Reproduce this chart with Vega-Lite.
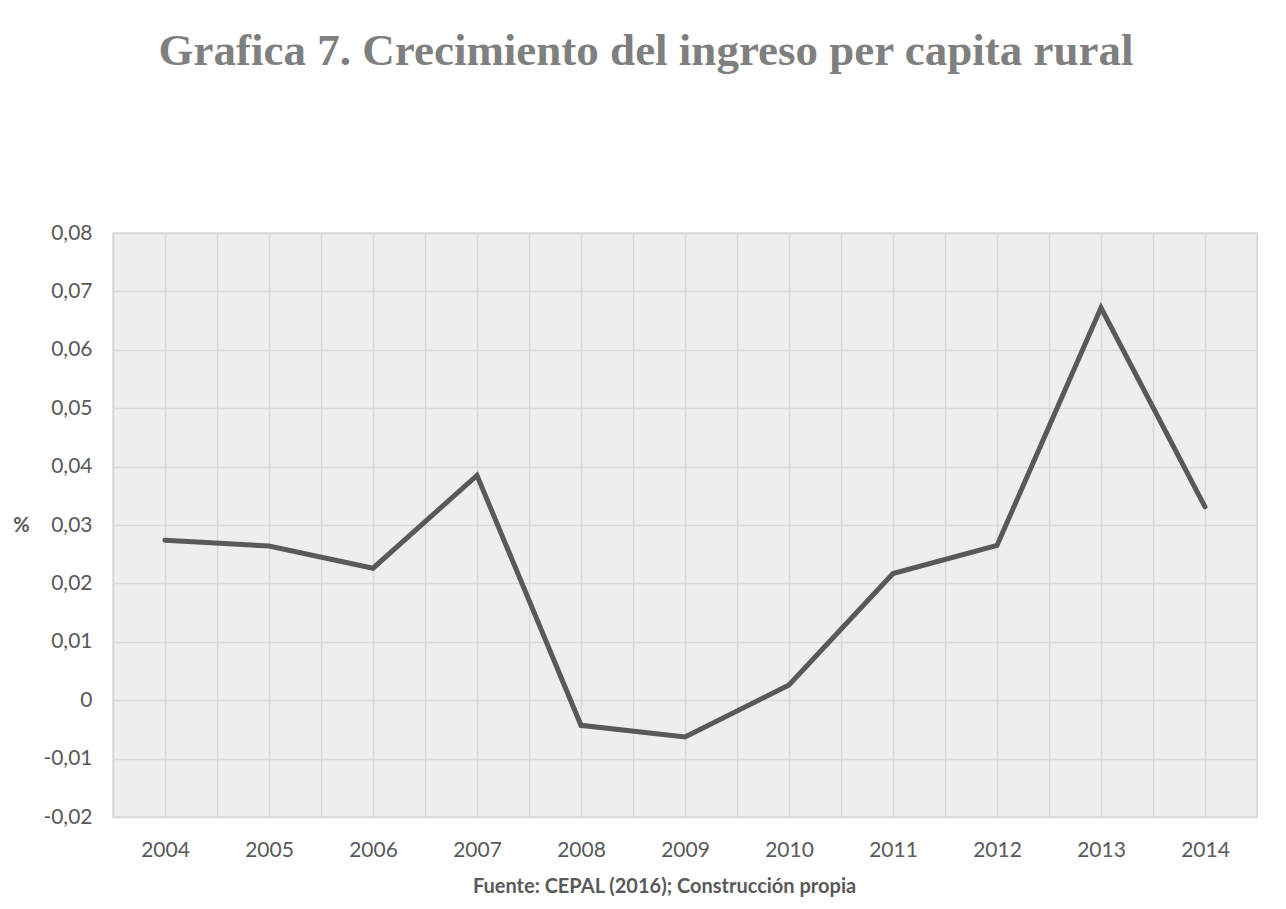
{
  "$schema": "https://vega.github.io/schema/vega-lite/v6.json",
  "width": 1144,
  "height": 584,
  "autosize": {"type": "none"},
  "padding": {"left": 113, "top": 233, "right": 29, "bottom": 92},
  "background": "white",
  "title": {
    "text": "Grafica 7. Crecimiento del ingreso per capita rural",
    "font": "Liberation Serif",
    "fontWeight": "bold",
    "fontSize": 45,
    "color": "#7f7f7f",
    "anchor": "middle",
    "offset": 148,
    "dx": -39
  },
  "data": {
    "values": [
      {"year": 2004, "value": 0.0274},
      {"year": 2005, "value": 0.0264},
      {"year": 2006, "value": 0.0226},
      {"year": 2007, "value": 0.0385},
      {"year": 2008, "value": -0.0043},
      {"year": 2009, "value": -0.0063},
      {"year": 2010, "value": 0.0026},
      {"year": 2011, "value": 0.0217},
      {"year": 2012, "value": 0.0265},
      {"year": 2013, "value": 0.0672},
      {"year": 2014, "value": 0.0331}
    ]
  },
  "mark": {"type": "line", "color": "#595959", "strokeWidth": 5, "strokeCap": "round", "strokeJoin": "miter"},
  "encoding": {
    "x": {
      "field": "year",
      "type": "quantitative",
      "scale": {"domain": [2003.5, 2014.5], "nice": false, "zero": false},
      "axis": {
        "values": [2003.5, 2004, 2004.5, 2005, 2005.5, 2006, 2006.5, 2007, 2007.5, 2008, 2008.5, 2009, 2009.5, 2010, 2010.5, 2011, 2011.5, 2012, 2012.5, 2013, 2013.5, 2014, 2014.5],
        "labelExpr": "datum.value % 1 == 0 ? format(datum.value, 'd') : ''",
        "title": "Fuente: CEPAL (2016); Construcción propia",
        "titleFont": "Lato",
        "titleFontWeight": "bold",
        "titleFontSize": 20,
        "titleColor": "#595959",
        "titlePadding": 16,
        "titleX": 551,
        "labelFont": "Lato",
        "labelFontSize": 21,
        "labelColor": "#595959",
        "labelPadding": 22,
        "labelOverlap": false,
        "labelFlush": false,
        "ticks": false,
        "domain": false,
        "grid": true,
        "gridColor": "#d9d9d9",
        "gridWidth": 1.5
      }
    },
    "y": {
      "field": "value",
      "type": "quantitative",
      "scale": {"domain": [-0.02, 0.08], "nice": false},
      "axis": {
        "values": [-0.02, -0.01, 0, 0.01, 0.02, 0.03, 0.04, 0.05, 0.06, 0.07, 0.08],
        "labelExpr": "datum.value == 0 ? '0' : (datum.value < 0 ? '-' : '') + replace(format(abs(datum.value), '.2f'), '.', ',')",
        "title": "%",
        "titleAngle": 0,
        "titleX": -92,
        "titleY": 292,
        "titleAlign": "center",
        "titleBaseline": "middle",
        "titleFont": "Lato",
        "titleFontWeight": "bold",
        "titleFontSize": 20,
        "titleColor": "#595959",
        "labelFont": "Lato",
        "labelFontSize": 21,
        "labelColor": "#595959",
        "labelPadding": 21,
        "ticks": false,
        "domain": false,
        "grid": true,
        "gridColor": "#d9d9d9",
        "gridWidth": 1.5
      }
    }
  },
  "config": {
    "view": {"fill": "#eeeeee", "stroke": "#d9d9d9", "strokeWidth": 1.5}
  }
}
